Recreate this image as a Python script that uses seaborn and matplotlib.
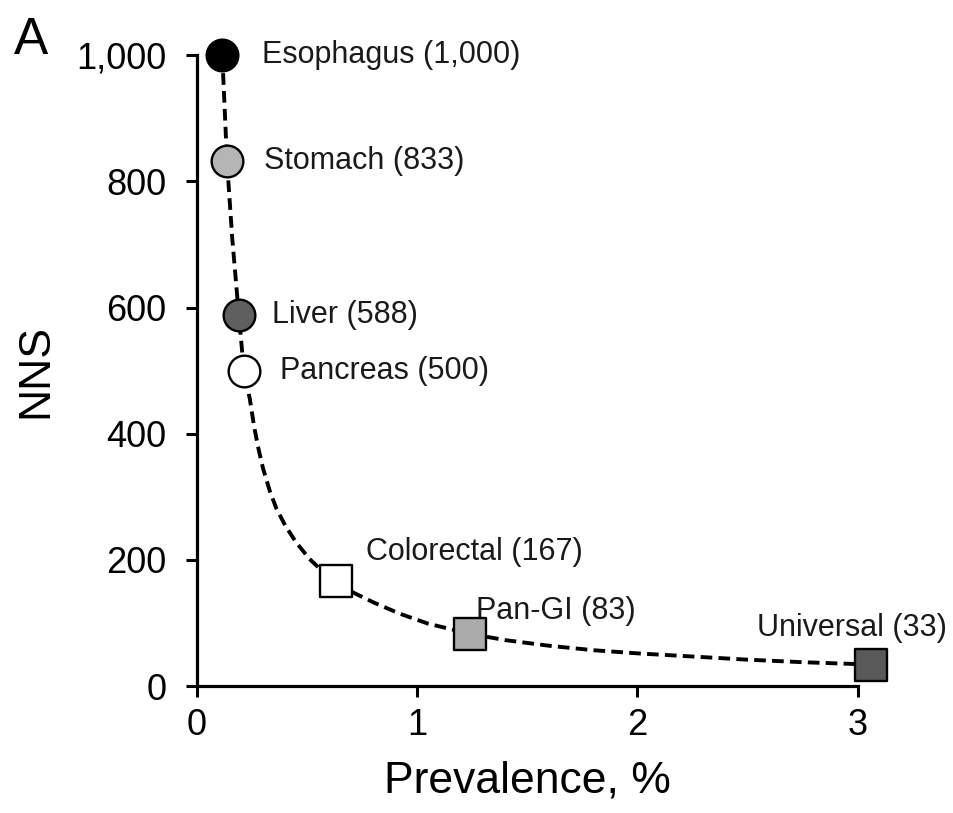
import matplotlib
matplotlib.use("Agg")
import matplotlib.pyplot as plt
import seaborn as sns
import pandas as pd

# screening sites, prevalence (%) and number needed to screen
sites = ["Esophagus", "Stomach", "Liver", "Pancreas", "Colorectal", "Pan-GI", "Universal"]
prevalence = [0.115, 0.136, 0.19, 0.213, 0.63, 1.24, 3.06]
nns = [1000, 833, 588, 500, 167, 83, 33]
nns_text = ["1,000", "833", "588", "500", "167", "83", "33"]

# dashed curve
curve_x = [0.115, 0.136, 0.16, 0.19, 0.213, 0.24, 0.26, 0.28, 0.30, 0.33, 0.36, 0.40, 0.45,
           0.51, 0.57, 0.63, 0.70, 0.80, 0.92, 1.05, 1.24, 1.4, 1.6, 1.8, 2.0, 2.25, 2.5,
           2.75, 3.0]
curve_y = [1000, 833, 710, 588, 500, 455, 410, 375, 345, 310, 282, 255, 228,
           202, 182, 167, 150, 133, 115, 99, 83, 73, 64, 57, 52, 47, 42,
           38, 35]

sns.set_style("ticks")
plt.rcParams['font.family'] = ['Liberation Sans', 'DejaVu Sans']
plt.rcParams['text.color'] = 'black'
plt.rcParams['xtick.color'] = 'black'
plt.rcParams['ytick.color'] = 'black'
plt.rcParams['axes.labelcolor'] = 'black'

fig = plt.figure(figsize=(9.54, 8.13), dpi=100)
ax = fig.add_axes([0.2065, 0.156, 0.6925, 0.776])

sns.lineplot(x=curve_x, y=curve_y, sort=False, color="black", linewidth=2.8,
             linestyle=(0, (3.0, 1.6)), ax=ax)

fills = ["#000000", "#b5b5b5", "#5f5f5f", "#ffffff", "#ffffff", "#ababab", "#595959"]
shapes = ["o", "o", "o", "o", "s", "s", "s"]
df = pd.DataFrame({"site": sites, "prev": prevalence, "nns": nns})
for i, row in df.iterrows():
    sz = 520 if shapes[i] == "o" else 540
    sns.scatterplot(x=[row.prev], y=[row.nns], marker=shapes[i], s=sz,
                    color=fills[i], edgecolor="black", linewidth=1.7,
                    clip_on=False, zorder=5, ax=ax, legend=False)

# label offsets in pixels
offsets = [(40, 0), (37, 0), (33, 0), (36, 0), (30, 29), (6, 23), (-114, 37)]
for i in range(len(sites)):
    ax.annotate(f"{sites[i]} ({nns_text[i]})", (prevalence[i], nns[i]),
                xytext=offsets[i], textcoords="offset pixels",
                ha="left", va="center", fontsize=22, color="#1a1a1a",
                annotation_clip=False)

ax.set_xlim(0, 3)
ax.set_ylim(0, 1000)
ax.set_xticks([0, 1, 2, 3])
ax.set_yticks([0, 200, 400, 600, 800, 1000])
ax.set_yticklabels(["0", "200", "400", "600", "800", "1,000"])
ax.tick_params(labelsize=26, width=2.2, length=8, color="black")
ax.tick_params(axis="y", pad=14)
ax.tick_params(axis="x", pad=8)
for side in ["left", "bottom"]:
    ax.spines[side].set_linewidth(2.3)
    ax.spines[side].set_color("black")
sns.despine(ax=ax)

ax.set_xlabel("Prevalence, %", fontsize=32, labelpad=12)
ax.set_ylabel("NNS", fontsize=32, labelpad=14)

fig.text(0.015, 0.95, "A", fontsize=37, va="center", ha="left")

fig.savefig("out.png", dpi=100)
